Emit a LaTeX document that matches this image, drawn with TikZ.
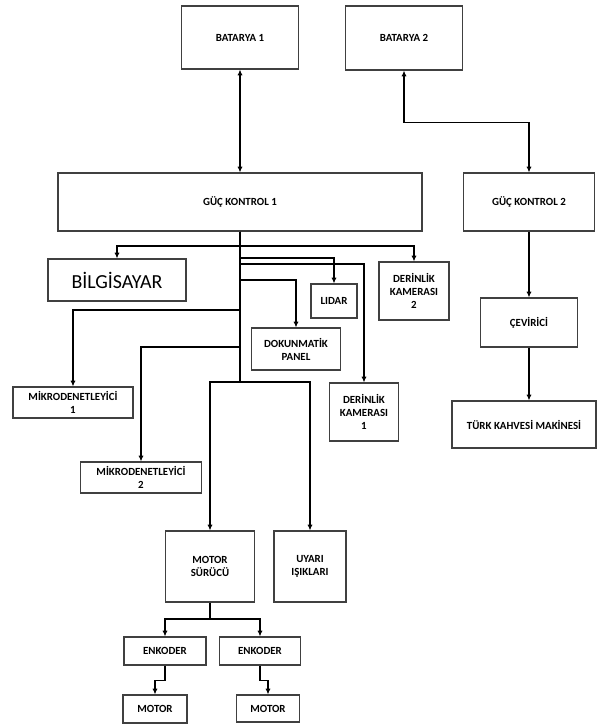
\documentclass[tikz,border=0pt]{standalone}
\usepackage{fontspec}
\setmainfont{Carlito}
\usepackage{tikz}
\usetikzlibrary{arrows.meta, positioning}

\begin{document}
\begin{tikzpicture}[
            x = 0.03cm,
            y = -0.03cm,
            > = {Latex[length=5pt, width=4.5pt]},
            box/.style = {draw = black!75, line width = 0.9pt, rectangle,
                inner sep = 0pt, align = center,
                font = \fontsize{9.3}{11}\selectfont\bfseries},
            wire/.style = {->, line width = 1.6pt}
        ]
        \useasboundingbox (0,0) rectangle (597,725);

        % power side
        \node[box, minimum width=3.51cm, minimum height=1.89cm] (bat1) at (240,37.5) {BATARYA 1};
        \node[box, minimum width=3.51cm, minimum height=1.92cm] (bat2) at (404,38) {BATARYA 2};
        \node[box, minimum width=10.92cm, minimum height=1.74cm] (gk1) at (240,202) {GÜÇ KONTROL 1};
        \node[box, minimum width=3.93cm, minimum height=1.74cm] (gk2) at (529,202) {GÜÇ KONTROL 2};
        \node[box, minimum width=2.91cm, minimum height=1.47cm] (cev) at (529,322.5) {ÇEVİRİCİ};
        \node[box, minimum width=4.32cm, minimum height=1.41cm] (tkm) at (524,424.5) {TÜRK KAHVESİ MAKİNESİ};

        % loads
        \node[box, minimum width=4.14cm, minimum height=1.26cm,
              font=\fontsize{17}{19}\selectfont] (pc) at (117,280) {BİLGİSAYAR};
        \node[box, minimum width=2.1cm, minimum height=1.74cm] (dk2) at (414,291) {DERİNLİK\\KAMERASI\\2};
        \node[box, minimum width=1.38cm, minimum height=1.02cm] (lidar) at (334,301) {LIDAR};
        \node[box, minimum width=2.07cm, minimum height=1.74cm] (dk1) at (364,412) {DERİNLİK\\KAMERASI\\1};
        \node[box, minimum width=2.67cm, minimum height=1.26cm] (panel) at (296,349) {DOKUNMATİK\\PANEL};
        \node[box, minimum width=3.6cm, minimum height=0.93cm] (mcu1) at (73,402.5) {MİKRODENETLEYİCİ\\1};
        \node[box, minimum width=3.63cm, minimum height=0.93cm] (mcu2) at (141,477.5) {MİKRODENETLEYİCİ\\2};
        \node[box, minimum width=2.67cm, minimum height=2.13cm] (ms) at (210,566.5) {MOTOR\\SÜRÜCÜ};
        \node[box, minimum width=2.16cm, minimum height=2.13cm] (uy) at (310,566.5) {UYARI\\IŞIKLARI};
        \node[box, minimum width=2.46cm, minimum height=0.84cm] (enc1) at (165,651) {ENKODER};
        \node[box, minimum width=2.43cm, minimum height=0.84cm] (enc2) at (260,651) {ENKODER};
        \node[box, minimum width=1.92cm, minimum height=0.84cm] (m1) at (155,709) {MOTOR};
        \node[box, minimum width=1.89cm, minimum height=0.81cm] (m2) at (268,708.5) {MOTOR};

        % bus junctions
        \coordinate (j1) at (240,246);
        \coordinate (j2) at (240,258);
        \coordinate (j3) at (240,264);
        \coordinate (j4) at (240,280);
        \coordinate (j5) at (240,310);
        \coordinate (j6) at (240,347);
        \coordinate (j7) at (240,382);
        \coordinate (j8) at (210,619);

        \draw[wire, <->] (bat1) -- (gk1);
        \draw[wire, <->] (bat2.south) -- ++(0,52) -| (gk2.north);
        \draw[wire] (gk2) -- (cev);
        \draw[wire] (cev.south) -- (cev.south |- tkm.north);

        \draw[wire] (gk1.south) -- (j1) -| (pc.north);
        \draw[wire] (j1) -| (dk2.north);
        \draw[wire] (gk1.south) -- (j2) -| (lidar.north);
        \draw[wire] (gk1.south) -- (j3) -| (dk1.north);
        \draw[wire] (gk1.south) -- (j4) -| (panel.north);
        \draw[wire] (gk1.south) -- (j5) -| (mcu1.north);
        \draw[wire] (gk1.south) -- (j6) -| (mcu2.north);
        \draw[wire] (gk1.south) -- (j7) -| (ms.north);
        \draw[wire] (j7) -| (uy.north);

        \draw[wire] (ms.south) -- (j8) -| (enc1.north);
        \draw[wire] (j8) -| (enc2.north);
        \draw[wire] (enc1.south) -- ++(0,15) -| (m1.north);
        \draw[wire] (enc2.south) -- ++(0,15) -| (m2.north);
    \end{tikzpicture}
\end{document}
